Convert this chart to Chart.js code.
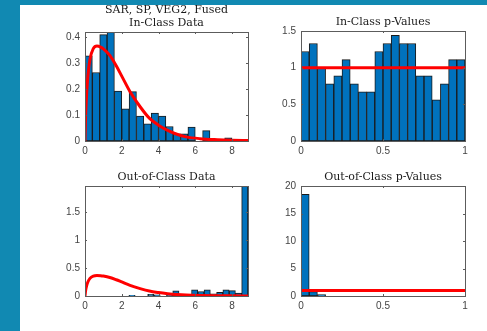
<!DOCTYPE html>
<html>
<head>
<meta charset="utf-8">
<script src="https://cdn.jsdelivr.net/npm/chart.js@4.4.0/dist/chart.umd.min.js"></script>
<style>
    body { margin: 0; background: #1189b2; width: 487px; height: 331px; overflow: hidden; }
    #panel { position: absolute; left: 20px; top: 5px; width: 467px; height: 326px; background: #ffffff; }
    canvas { position: absolute; left: 0; top: 0; }
</style>
</head>
<body>
<div id="panel"></div>
<canvas id="inData" width="487" height="331"></canvas>
<canvas id="inP" width="487" height="331"></canvas>
<canvas id="outData" width="487" height="331"></canvas>
<canvas id="outP" width="487" height="331"></canvas>
<script>
// histogram bin centres
const inBins = [0.2, 0.6, 1.0, 1.4, 1.8, 2.2, 2.6, 3.0, 3.4, 3.8, 4.2, 4.6, 5.0, 5.4, 5.8, 6.2, 6.6, 7.0, 7.4, 7.8, 8.2, 8.6];
const outBins = [0.171, 0.512, 0.853, 1.194, 1.535, 1.876, 2.217, 2.558, 2.899, 3.240, 3.581, 3.922, 4.263,
    4.604, 4.945, 5.286, 5.627, 5.968, 6.309, 6.650, 6.991, 7.332, 7.673, 8.014, 8.355, 8.696];
const pBins = [0.025, 0.075, 0.125, 0.175, 0.225, 0.275, 0.325, 0.375, 0.425, 0.475,
    0.525, 0.575, 0.625, 0.675, 0.725, 0.775, 0.825, 0.875, 0.925, 0.975];

// bar heights (density)
const inDensity = [0.328, 0.264, 0.41, 0.43, 0.192, 0.124, 0.19, 0.096, 0.066, 0.108, 0.096,
    0.056, 0.028, 0.028, 0.054, 0, 0.04, 0, 0, 0.012, 0, 0];
const outDensity = [0, 0, 0, 0, 0, 0, 0, 0.012, 0, 0, 0.03, 0.02, 0, 0.02, 0.09, 0, 0,
    0.11, 0.08, 0.11, 0.04, 0.065, 0.11, 0.095, 0.05, 1.96];
const inPValues = [1.22, 1.33, 1.0, 0.78, 0.89, 1.11, 0.78, 0.67, 0.67, 1.22,
    1.33, 1.44, 1.33, 1.33, 0.89, 0.89, 0.56, 0.78, 1.11, 1.11];
const outPValues = [18.5, 0.8, 0.25, 0, 0, 0, 0, 0, 0, 0, 0, 0, 0, 0, 0, 0, 0, 0, 0, 0];

// fitted pdf (red curve) and uniform reference
const fitX = [0, 0.03, 0.08, 0.15, 0.27, 0.45, 0.65, 0.85, 1.0, 1.35, 1.7, 2.0, 2.45, 3.0,
    3.5, 4.0, 4.5, 5.0, 5.5, 6.25, 7.2, 8.0, 8.87];
const fitY = [0, 0.09, 0.17, 0.245, 0.315, 0.356, 0.366, 0.362, 0.355, 0.33, 0.29, 0.25, 0.19,
    0.132, 0.088, 0.061, 0.041, 0.026, 0.016, 0.009, 0.005, 0.003, 0.002];
const uniformX = [0, 1];
const uniformY = [1, 1];

// ticks
const dataXTicks = [0, 2, 4, 6, 8];
const pXTicks = [0, 0.5, 1];
const inDataYTicks = [0, 0.1, 0.2, 0.3, 0.4];
const inPYTicks = [0, 0.5, 1, 1.5];
const outDataYTicks = [0, 0.5, 1, 1.5];
const outPYTicks = [0, 5, 10, 15, 20];

const AXIS_COLOR = '#5c5c5c';
const TEXT_COLOR = '#444444';
const BAR_COLOR = '#0072bd';
const Y_WIDTH = 30;
const X_HEIGHT = 20;

const axesBox = {
    id: 'axesBox',
    afterDatasetsDraw(chart) {
        const { ctx, chartArea, scales } = chart;
        const { left, right, top, bottom } = chartArea;
        const len = 2;
        ctx.save();
        ctx.strokeStyle = AXIS_COLOR;
        ctx.lineWidth = 1;
        ctx.beginPath();
        scales.x.ticks.forEach(t => {
            const px = Math.round(scales.x.getPixelForValue(t.value)) + 0.5;
            ctx.moveTo(px, bottom);
            ctx.lineTo(px, bottom - len);
            ctx.moveTo(px, top);
            ctx.lineTo(px, top + len);
        });
        scales.y.ticks.forEach(t => {
            const py = Math.round(scales.y.getPixelForValue(t.value)) + 0.5;
            ctx.moveTo(left, py);
            ctx.lineTo(left + len, py);
            ctx.moveTo(right, py);
            ctx.lineTo(right - len, py);
        });
        ctx.stroke();
        ctx.strokeRect(left + 0.5, top + 0.5, right - left, bottom - top);
        ctx.restore();
    }
};

function tickFont() {
    return { family: 'Liberation Sans', size: 10 };
}

function drawPanel(id, cfg) {
    const [aLeft, aTop, aRight, aBottom] = cfg.area;
    const lines = Array.isArray(cfg.title) ? cfg.title.length : 1;
    const titleHeight = lines * 13 + 2;

    new Chart(document.getElementById(id), {
        type: 'bar',
        data: {
            datasets: [{
                type: 'line',
                data: cfg.lineX.map((x, i) => ({ x, y: cfg.lineY[i] })),
                borderColor: '#ff0000',
                borderWidth: 3,
                pointRadius: 0,
                fill: false,
                cubicInterpolationMode: 'monotone',
                order: 0
            }, {
                data: cfg.bins.map((x, i) => ({ x, y: cfg.values[i] })),
                backgroundColor: BAR_COLOR,
                borderColor: '#1a1a1a',
                borderWidth: 1,
                borderSkipped: false,
                barPercentage: 1,
                categoryPercentage: 1,
                order: 1
            }]
        },
        options: {
            responsive: false,
            animation: false,
            layout: {
                padding: {
                    left: aLeft - Y_WIDTH,
                    top: aTop - titleHeight,
                    right: 487 - aRight,
                    bottom: 331 - aBottom - X_HEIGHT
                }
            },
            plugins: {
                legend: { display: false },
                tooltip: { enabled: false },
                title: {
                    display: true,
                    text: cfg.title,
                    fullSize: false,
                    color: '#1a1a1a',
                    font: { family: 'DejaVu Serif', size: 11, weight: 'normal', lineHeight: '13px' },
                    padding: { top: 0, bottom: 2 }
                }
            },
            scales: {
                x: {
                    type: 'linear',
                    min: 0,
                    max: cfg.xMax,
                    offset: false,
                    grid: { display: false, drawTicks: false },
                    border: { display: false },
                    afterBuildTicks: s => { s.ticks = cfg.xTicks.map(v => ({ value: v })); },
                    afterFit: s => { s.height = X_HEIGHT; },
                    ticks: {
                        color: TEXT_COLOR,
                        font: tickFont(),
                        padding: 4,
                        maxRotation: 0,
                        autoSkip: false,
                        callback: v => String(v)
                    }
                },
                y: {
                    min: 0,
                    max: cfg.yMax,
                    grid: { display: false, drawTicks: false },
                    border: { display: false },
                    afterBuildTicks: s => { s.ticks = cfg.yTicks.map(v => ({ value: v })); },
                    afterFit: s => { s.width = Y_WIDTH; },
                    ticks: {
                        color: TEXT_COLOR,
                        font: tickFont(),
                        padding: 5,
                        autoSkip: false,
                        callback: v => String(v)
                    }
                }
            }
        },
        plugins: [axesBox]
    });
}

drawPanel('inData', {
    area: [85, 32, 248, 141],
    title: ['SAR, SP, VEG2, Fused', 'In-Class Data'],
    bins: inBins, values: inDensity,
    lineX: fitX, lineY: fitY,
    xMax: 8.87, yMax: 0.42,
    xTicks: dataXTicks, yTicks: inDataYTicks
});

drawPanel('inP', {
    area: [301, 31, 465, 141],
    title: 'In-Class p-Values',
    bins: pBins, values: inPValues,
    lineX: uniformX, lineY: uniformY,
    xMax: 1, yMax: 1.5,
    xTicks: pXTicks, yTicks: inPYTicks
});

drawPanel('outData', {
    area: [85, 186, 248, 296],
    title: 'Out-of-Class Data',
    bins: outBins, values: outDensity,
    lineX: fitX, lineY: fitY,
    xMax: 8.87, yMax: 1.96,
    xTicks: dataXTicks, yTicks: outDataYTicks
});

drawPanel('outP', {
    area: [301, 186, 465, 296],
    title: 'Out-of-Class p-Values',
    bins: pBins, values: outPValues,
    lineX: uniformX, lineY: uniformY,
    xMax: 1, yMax: 20,
    xTicks: pXTicks, yTicks: outPYTicks
});
</script>
</body>
</html>
